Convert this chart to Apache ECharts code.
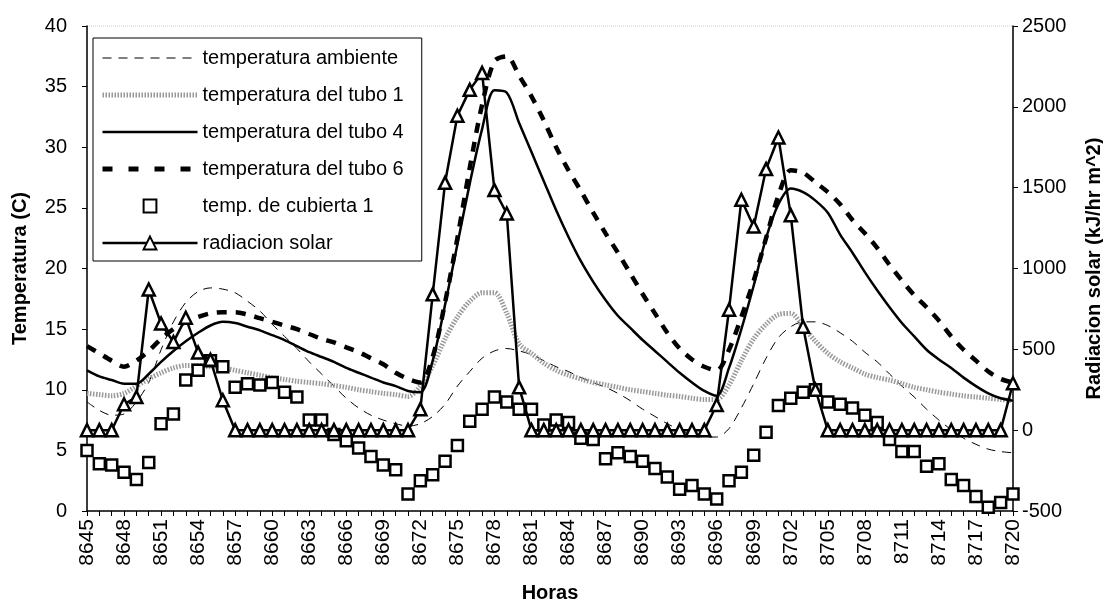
<!DOCTYPE html>
<html lang="es">
<head>
<meta charset="UTF-8">
<title>Temperaturas y radiacion solar</title>
<script src="https://cdn.jsdelivr.net/npm/echarts@6/dist/echarts.min.js"></script>
<style>
  html, body { margin: 0; padding: 0; background: #fff; }
  #chart { width: 1103px; height: 605px; }
</style>
</head>
<body>
<div id="chart"></div>
<script>
// 横轴：小时
const horas = [
    8645, 8646, 8647, 8648, 8649, 8650, 8651, 8652, 8653, 8654, 8655, 8656, 8657, 8658, 8659, 8660,
    8661, 8662, 8663, 8664, 8665, 8666, 8667, 8668, 8669, 8670, 8671, 8672, 8673, 8674, 8675, 8676,
    8677, 8678, 8679, 8680, 8681, 8682, 8683, 8684, 8685, 8686, 8687, 8688, 8689, 8690, 8691, 8692,
    8693, 8694, 8695, 8696, 8697, 8698, 8699, 8700, 8701, 8702, 8703, 8704, 8705, 8706, 8707, 8708,
    8709, 8710, 8711, 8712, 8713, 8714, 8715, 8716, 8717, 8718, 8719, 8720
];

// 温度 (C)
const tempAmbiente = [
    9.0, 8.3, 7.9, 8.0, 9.0, 10.6, 13.3, 15.6, 17.2, 18.1, 18.4, 18.3, 18.0, 17.3, 16.5, 15.4,
    14.4, 13.4, 12.3, 11.3, 10.3, 9.3, 8.5, 7.9, 7.5, 7.2, 7.0, 7.2, 7.8, 8.8, 10.3, 11.5,
    12.6, 13.2, 13.4, 13.2, 12.9, 12.4, 11.9, 11.5, 11.0, 10.6, 10.2, 9.7, 9.1, 8.4, 7.8, 7.2,
    6.7, 6.3, 6.1, 6.1, 6.8, 8.5, 10.5, 12.6, 14.3, 15.2, 15.6, 15.6, 15.3, 14.7, 14.0, 13.1,
    12.3, 11.3, 10.3, 9.4, 8.4, 7.5, 6.7, 6.0, 5.5, 5.1, 4.9, 4.8
];
const tempTubo1 = [
    9.7, 9.6, 9.5, 9.7, 10.3, 10.9, 11.4, 11.8, 12.0, 12.0, 11.9, 11.8, 11.6, 11.4, 11.2, 11.0,
    10.85, 10.7, 10.6, 10.5, 10.35, 10.2, 10.0, 9.85, 9.7, 9.6, 9.45, 10.3, 12.0, 14.2, 16.0, 17.3,
    18.0, 18.0, 16.3, 13.8, 13.0, 12.2, 11.6, 11.2, 10.9, 10.6, 10.4, 10.2, 10.0, 9.85, 9.7, 9.55,
    9.45, 9.3, 9.2, 9.2, 10.4, 12.4, 14.2, 15.4, 16.2, 16.3, 15.2, 14.0, 13.0, 12.3, 11.8, 11.3,
    11.0, 10.8, 10.5, 10.2, 10.0, 9.8, 9.65, 9.5, 9.4, 9.3, 9.2, 9.1
];
const tempTubo4 = [
    11.6, 11.1, 10.8, 10.5, 10.5, 11.3, 12.3, 13.2, 14.0, 14.7, 15.3, 15.6, 15.5, 15.2, 14.9, 14.5,
    14.1, 13.6, 13.1, 12.7, 12.3, 11.8, 11.4, 11.0, 10.6, 10.3, 9.9, 9.8, 12.4, 17.0, 22.0, 27.0,
    31.5, 34.7, 34.5, 32.0, 29.6, 27.2, 24.8, 22.6, 20.6, 18.9, 17.4, 16.1, 15.1, 14.1, 13.2, 12.3,
    11.4, 10.6, 9.9, 9.5, 11.8, 15.0, 18.6, 22.5, 25.3, 26.6, 26.3, 25.6, 24.6, 22.8, 21.3, 19.7,
    18.2, 16.8, 15.5, 14.4, 13.3, 12.5, 11.8, 11.0, 10.3, 9.7, 9.3, 9.1
];
const tempTubo6 = [
    13.6, 13.0, 12.4, 11.9, 12.4, 13.2, 14.2, 15.0, 15.6, 16.0, 16.3, 16.4, 16.4, 16.2, 15.9, 15.6,
    15.3, 15.0, 14.6, 14.2, 13.9, 13.5, 13.1, 12.6, 12.1, 11.4, 10.9, 10.6, 12.7, 17.2, 22.5, 28.3,
    33.5, 37.1, 37.5, 35.9, 34.2, 32.2, 30.0, 28.1, 26.4, 24.6, 22.9, 21.3, 19.6, 17.9, 16.3, 14.7,
    13.4, 12.5, 11.9, 11.6, 13.3, 16.0, 19.0, 22.5, 26.0, 28.1, 27.9, 27.1, 26.3, 25.3, 24.0, 22.9,
    21.7, 20.3, 19.0, 17.8, 16.8, 15.7, 14.4, 13.3, 12.4, 11.5, 10.9, 10.6
];
const tempCubierta1 = [
    5.0, 3.9, 3.8, 3.2, 2.6, 4.0, 7.2, 8.0, 10.8, 11.6, 12.4, 11.9, 10.2, 10.5, 10.4, 10.6,
    9.8, 9.4, 7.5, 7.5, 6.3, 5.8, 5.2, 4.5, 3.8, 3.4, 1.4, 2.5, 3.0, 4.1, 5.4, 7.4,
    8.4, 9.4, 9.0, 8.4, 8.4, 7.1, 7.5, 7.3, 6.0, 5.9, 4.3, 4.8, 4.5, 4.1, 3.5, 2.8,
    1.8, 2.1, 1.4, 1.0, 2.5, 3.2, 4.6, 6.5, 8.7, 9.3, 9.8, 10.0, 9.0, 8.8, 8.5, 7.9,
    7.3, 5.9, 4.9, 4.9, 3.7, 3.9, 2.6, 2.1, 1.2, 0.3, 0.7, 1.4
];

// 太阳辐射 (kJ/hr m^2)
const radiacion = [
    0, 0, 0, 160, 205, 870, 660, 545, 695, 480, 435, 185, 0, 0, 0, 0,
    0, 0, 0, 0, 0, 0, 0, 0, 0, 0, 0, 130, 840, 1530, 1945, 2105,
    2210, 1485, 1340, 265, 0, 0, 0, 0, 0, 0, 0, 0, 0, 0, 0, 0,
    0, 0, 0, 156, 745, 1425, 1260, 1615, 1810, 1330, 640, 250, 0, 0, 0, 0,
    0, 0, 0, 0, 0, 0, 0, 0, 0, 0, 0, 290
];

document.addEventListener('DOMContentLoaded', () => {
    const myChart = echarts.init(document.getElementById('chart'));
    const fuente = 'Liberation Sans, Arial, sans-serif';

    const hollow = {
        color: '#fff',
        borderColor: '#000',
        borderWidth: 2.5
    };

    // 各条线的样式，图例里也用同样的
    const estiloAmbiente = { color: '#000', width: 1, type: [9, 7] };
    const estiloTubo1 = { color: '#999', width: 5, type: [1.5, 1.5] };
    const estiloTubo4 = { color: '#000', width: 2.5 };
    const estiloTubo6 = { color: '#000', width: 4.5, type: [10, 9] };

    // 图例里只画线，不画圆点
    const soloLinea = { opacity: 0 };

    const option = {
        backgroundColor: '#fff',
        animation: false,
        textStyle: { fontFamily: fuente, color: '#000' },
        grid: {
            left: 87,
            right: 90,
            top: 26,
            bottom: 94,
            outerBoundsMode: 'none',
            show: true,
            borderColor: '#c8c8c8',
            borderWidth: 1,
            borderType: 'dotted'
        },
        legend: {
            orient: 'vertical',
            left: 93,
            top: 38,
            padding: [10, 18, 8, 7],
            itemGap: 17,
            itemWidth: 95,
            itemHeight: 16,
            borderColor: '#000',
            borderWidth: 1,
            backgroundColor: '#fff',
            textStyle: { fontSize: 20, color: '#000', fontFamily: fuente },
            data: [
                { name: 'temperatura ambiente', itemStyle: soloLinea, lineStyle: estiloAmbiente },
                { name: 'temperatura del tubo 1', itemStyle: soloLinea, lineStyle: estiloTubo1 },
                { name: 'temperatura del tubo 4', itemStyle: soloLinea, lineStyle: estiloTubo4 },
                { name: 'temperatura del tubo 6', itemStyle: soloLinea, lineStyle: { color: '#000', width: 5, type: [10, 16] } },
                'temp. de cubierta 1',
                { name: 'radiacion solar', lineStyle: { color: '#000', width: 2.5 } }
            ]
        },
        xAxis: {
            type: 'category',
            data: horas,
            boundaryGap: false,
            name: 'Horas',
            nameLocation: 'middle',
            nameGap: 72,
            nameTextStyle: { fontSize: 20, fontWeight: 'bold', color: '#000' },
            axisLine: { lineStyle: { color: '#000', width: 1.5 } },
            axisTick: { interval: 0, length: 5, lineStyle: { color: '#000' } },
            axisLabel: { interval: 2, rotate: 90, fontSize: 21, color: '#000', margin: 8 },
            splitLine: { show: false }
        },
        yAxis: [
            {
                type: 'value',
                min: 0,
                max: 40,
                interval: 5,
                name: 'Temperatura (C)',
                nameLocation: 'middle',
                nameRotate: 90,
                nameGap: 57,
                nameTextStyle: { fontSize: 20, fontWeight: 'bold', color: '#000' },
                axisLine: { show: true, lineStyle: { color: '#000', width: 1.5 } },
                axisTick: { show: true, length: 5, lineStyle: { color: '#000' } },
                axisLabel: { fontSize: 20, color: '#000', margin: 20 },
                splitLine: { show: false }
            },
            {
                type: 'value',
                min: -500,
                max: 2500,
                interval: 500,
                position: 'right',
                name: 'Radiacion solar (kJ/hr m^2)',
                nameLocation: 'middle',
                nameRotate: 90,
                nameGap: 71,
                nameTextStyle: { fontSize: 20, fontWeight: 'bold', color: '#000' },
                axisLine: { show: true, lineStyle: { color: '#000', width: 1.5 } },
                axisTick: { show: true, length: 5, lineStyle: { color: '#000' } },
                axisLabel: { fontSize: 20, color: '#000', margin: 9, formatter: v => String(v) },
                splitLine: { show: false }
            }
        ],
        series: [
            {
                name: 'temperatura ambiente',
                type: 'line',
                data: tempAmbiente,
                smooth: 0.3,
                showSymbol: false,
                lineStyle: estiloAmbiente,
                itemStyle: { color: '#000' },
                z: 2
            },
            {
                name: 'temperatura del tubo 1',
                type: 'line',
                data: tempTubo1,
                smooth: 0.3,
                showSymbol: false,
                lineStyle: estiloTubo1,
                itemStyle: { color: '#999' },
                z: 2
            },
            {
                name: 'temperatura del tubo 4',
                type: 'line',
                data: tempTubo4,
                smooth: 0.3,
                showSymbol: false,
                lineStyle: estiloTubo4,
                itemStyle: { color: '#000' },
                z: 3
            },
            {
                name: 'temperatura del tubo 6',
                type: 'line',
                data: tempTubo6,
                smooth: 0.3,
                showSymbol: false,
                lineStyle: estiloTubo6,
                itemStyle: { color: '#000' },
                z: 3
            },
            {
                name: 'temp. de cubierta 1',
                type: 'line',
                data: tempCubierta1,
                symbol: 'rect',
                symbolSize: 11,
                showAllSymbol: true,
                lineStyle: { opacity: 0 },
                itemStyle: hollow,
                z: 4
            },
            {
                name: 'radiacion solar',
                type: 'line',
                yAxisIndex: 1,
                data: radiacion,
                symbol: 'triangle',
                symbolSize: 12,
                showAllSymbol: true,
                lineStyle: { color: '#000', width: 2.5 },
                itemStyle: hollow,
                z: 5
            }
        ]
    };

    myChart.setOption(option);

    window.addEventListener('resize', () => {
        myChart.resize();
    });
});
</script>
</body>
</html>
